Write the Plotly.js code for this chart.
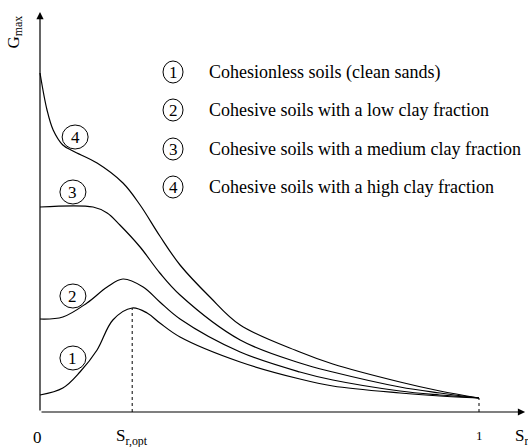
<!DOCTYPE html>
<html>
<head>
<meta charset="utf-8">
<script src="https://cdn.plot.ly/plotly-3.0.1.min.js"></script>
<style>html,body{margin:0;padding:0;background:#fff;}#chart{width:528px;height:447px;}</style>
</head>
<body>
<div id="chart"></div>
<script>
// Degree of saturation Sr (0..1) and Gmax (arbitrary units)
const x1 = [0, 0.052, 0.091, 0.130, 0.166, 0.21, 0.244, 0.273, 0.319, 0.456, 0.592, 0.667, 0.82, 0.911, 1];
const g1 = [0.17, 0.24, 0.40, 0.62, 0.92, 1.04, 0.99, 0.89, 0.75, 0.50, 0.33, 0.26, 0.19, 0.16, 0.14];
const x2 = [0, 0.052, 0.107, 0.153, 0.189, 0.235, 0.273, 0.319, 0.456, 0.592, 0.667, 0.82, 0.911, 1];
const g2 = [0.93, 0.95, 1.09, 1.25, 1.33, 1.25, 1.10, 0.93, 0.60, 0.40, 0.32, 0.21, 0.17, 0.14];
const x3 = [0, 0.121, 0.153, 0.182, 0.228, 0.273, 0.319, 0.456, 0.592, 0.667, 0.82, 0.911, 1];
const g3 = [2.05, 2.05, 1.99, 1.87, 1.65, 1.39, 1.17, 0.72, 0.49, 0.40, 0.25, 0.19, 0.14];
const x4 = [0, 0.016, 0.030, 0.052, 0.075, 0.130, 0.189, 0.228, 0.273, 0.319, 0.387, 0.456, 0.592, 0.667, 0.82, 0.911, 1];
const g4 = [3.39, 3.02, 2.82, 2.67, 2.61, 2.49, 2.29, 2.07, 1.76, 1.47, 1.15, 0.87, 0.60, 0.48, 0.30, 0.21, 0.14];

const seriesNames = ["1", "2", "3", "4"];
const legendTexts = [
  "Cohesionless soils (clean sands)",
  "Cohesive soils with a low clay fraction",
  "Cohesive soils with a medium clay fraction",
  "Cohesive soils with a high clay fraction"
];
const srOpt = 0.21;
const gAtOpt = 1.04;
const gAtOne = 0.14;
// label positions for circled numbers on curves
const labelX = [0.075, 0.075, 0.075, 0.080];
const labelY = [0.54, 1.16, 2.20, 2.75];

const xs = [x1, x2, x3, x4];
const gs = [g1, g2, g3, g4];

const font = "Times New Roman, Liberation Serif, DejaVu Serif, serif";

const traces = xs.map((x, i) => ({
  x: x, y: gs[i], mode: "lines", type: "scatter",
  line: {color: "#000", width: 1.2, shape: "spline", smoothing: 1},
  hoverinfo: "skip", showlegend: false, name: seriesNames[i]
}));

const shapes = [];
const annotations = [];

// dotted verticals
shapes.push({type: "line", xref: "x", yref: "y", x0: srOpt, x1: srOpt, y0: 0, y1: gAtOpt,
  line: {color: "#000", width: 1, dash: "dot"}});
shapes.push({type: "line", xref: "x", yref: "y", x0: 1, x1: 1, y0: 0, y1: gAtOne,
  line: {color: "#000", width: 1, dash: "dot"}});

// axes with arrows
annotations.push({x: 1.105, y: 0, ax: 0, ay: 0, xref: "x", yref: "y", axref: "x", ayref: "y",
  text: "", showarrow: true, arrowhead: 2, arrowsize: 1.2, arrowwidth: 1.2, arrowcolor: "#000", standoff: 0});
annotations.push({x: 0, y: 4.0, ax: 0, ay: 0, xref: "x", yref: "y", axref: "x", ayref: "y",
  text: "", showarrow: true, arrowhead: 2, arrowsize: 1.2, arrowwidth: 1.2, arrowcolor: "#000", standoff: 0});

function circled(xv, yv, rx, ry, label) {
  shapes.push({type: "circle", xref: "x", yref: "y", xsizemode: "pixel", ysizemode: "pixel",
    xanchor: xv, yanchor: yv, x0: -rx, x1: rx, y0: -ry, y1: ry,
    line: {color: "#000", width: 1}});
  annotations.push({x: xv, y: yv, xref: "x", yref: "y", text: label, showarrow: false,
    font: {family: font, size: 17, color: "#000"}, xanchor: "center", yanchor: "middle"});
}

// circled labels on curves
seriesNames.forEach((n, i) => circled(labelX[i], labelY[i], 13, 12, n));

// legend
const legX = 0.303, legText = 0.38;
const legY = [3.40, 3.02, 2.63, 2.25];
seriesNames.forEach((n, i) => {
  circled(legX, legY[i], 10, 11, n);
  annotations.push({x: legText, y: legY[i], xref: "x", yref: "y", text: legendTexts[i], showarrow: false,
    xanchor: "left", yanchor: "middle", font: {family: font, size: 18, color: "#000"}});
});

// axis labels
annotations.push({x: -0.005, y: -0.25, xref: "x", yref: "y", text: "0", showarrow: false,
  font: {family: font, size: 17, color: "#000"}, xanchor: "center", yanchor: "middle"});
annotations.push({x: srOpt, y: -0.25, xref: "x", yref: "y", text: "S<sub>r,opt</sub>", showarrow: false,
  font: {family: font, size: 17, color: "#000"}, xanchor: "center", yanchor: "middle"});
annotations.push({x: 1, y: -0.23, xref: "x", yref: "y", text: "1", showarrow: false,
  font: {family: font, size: 13, color: "#000"}, xanchor: "center", yanchor: "middle"});
annotations.push({x: 1.078, y: -0.25, xref: "x", yref: "y", text: "S<sub>r</sub>", showarrow: false,
  font: {family: font, size: 17, color: "#000"}, xanchor: "left", yanchor: "middle"});
annotations.push({x: -0.058, y: 3.8, xref: "x", yref: "y", text: "G<sub>max</sub>", showarrow: false,
  textangle: -90, font: {family: font, size: 17, color: "#000"}, xanchor: "center", yanchor: "middle"});

const layout = {
  width: 528, height: 447,
  font: {family: font},
  margin: {l: 0, r: 0, t: 0, b: 0, pad: 0},
  paper_bgcolor: "#fff", plot_bgcolor: "#fff",
  xaxis: {range: [-40/439, 488/439], visible: false, fixedrange: true},
  yaxis: {range: [-0.35, 4.12], visible: false, fixedrange: true},
  shapes: shapes, annotations: annotations, showlegend: false
};

Plotly.newPlot("chart", traces, layout, {displayModeBar: false, staticPlot: true});
</script>
</body>
</html>
